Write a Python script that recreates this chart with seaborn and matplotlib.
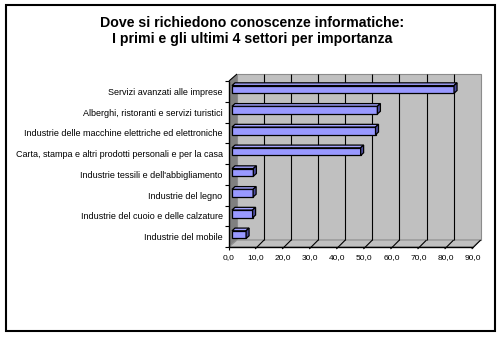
import matplotlib
matplotlib.use("Agg")
import matplotlib.pyplot as plt
import seaborn as sns
import pandas as pd
from matplotlib.patches import Polygon, Rectangle
from matplotlib.lines import Line2D
from matplotlib.transforms import ScaledTranslation, IdentityTransform
from matplotlib import font_manager

# ---- data ----
sectors = [
    "Servizi avanzati alle imprese",
    "Alberghi, ristoranti e servizi turistici",
    "Industrie delle macchine elettriche ed elettroniche",
    "Carta, stampa e altri prodotti personali e per la casa",
    "Industrie tessili e dell'abbigliamento",
    "Industrie del legno",
    "Industrie del cuoio e delle calzature",
    "Industrie del mobile",
]
shares = [82.0, 53.7, 53.0, 47.5, 7.9, 7.8, 7.6, 5.2]
x_ticks = [0, 10, 20, 30, 40, 50, 60, 70, 80, 90]
x_tick_labels = ["0,0", "10,0", "20,0", "30,0", "40,0", "50,0", "60,0", "70,0", "80,0", "90,0"]
title_lines = ["Dove si richiedono conoscenze informatiche:",
               "I primi e gli ultimi 4 settori per importanza"]

sns.set_theme(style="white")
plt.rcParams["font.family"] = ["Liberation Sans", "DejaVu Sans"]

installed = {f.name for f in font_manager.fontManager.ttflist}
if "Liberation Sans Narrow" in installed:
    small_family, ylab_size, xlab_size = ["Liberation Sans Narrow", "Liberation Sans"], 7.8, 6.6
else:
    small_family, ylab_size, xlab_size = ["Liberation Sans", "DejaVu Sans"], 6.45, 6.0

W, H = 502, 337
fig = plt.figure(figsize=(W / 100, H / 100), dpi=100)
fig.patch.set_facecolor("white")

# front plane of the 3D box (pixels, measured from the top edge)
FX0, FX1 = 229, 472.7
FY_TOP, FY_BOT = 81, 247
ax = fig.add_axes([FX0 / W, (H - FY_BOT) / H, (FX1 - FX0) / W, (FY_BOT - FY_TOP) / H])
ax.patch.set_visible(False)

DX, DY = 8, 7            # depth of the box
BX, BY = 3, 2            # bar front face offset into the box
TX, TY = 3, 2.7          # bar depth

df = pd.DataFrame({"settore": sectors, "quota": shares})
sns.barplot(data=df, x="quota", y="settore", orient="h", color="#9999ff",
            saturation=1, width=0.37, edgecolor="black", linewidth=0.9,
            ax=ax, zorder=5)
bars = list(ax.patches)

ax.set_xlim(0, 90)
ax.set_ylim(7.5, -0.5)
for s in ax.spines.values():
    s.set_visible(False)
ax.set_xlabel("")
ax.set_ylabel("")
ax.grid(False)


def px(x, y, dx=0, dy=0):
    X, Y = ax.transData.transform((x, y))
    return (X + dx, Y + dy)


ident = IdentityTransform()


def poly(points, fc, ec="none", lw=0.8, z=1):
    ax.add_patch(Polygon(points, closed=True, facecolor=fc, edgecolor=ec,
                         linewidth=lw, transform=ident, clip_on=False, zorder=z))


def seg(p, q, color="black", lw=0.8, z=2):
    ax.add_line(Line2D([p[0], q[0]], [p[1], q[1]], color=color, linewidth=lw,
                       transform=ident, clip_on=False, zorder=z,
                       solid_capstyle="butt"))


# back wall
poly([px(0, -0.5, DX, DY), px(90, -0.5, DX, DY), px(90, 7.5, DX, DY), px(0, 7.5, DX, DY)],
     "#c0c0c0", "#8c8c8c", z=1)
for v in x_ticks[1:-1]:
    seg(px(v, -0.5, DX, DY), px(v, 7.5, DX, DY), z=2)

# left side wall
poly([px(0, -0.5), px(0, -0.5, DX, DY), px(0, 7.5, DX, DY), px(0, 7.5)], "#808080", z=1.5)
seg(px(0, -0.5), px(0, -0.5, DX, DY), color="black", z=2)

# floor
poly([px(0, 7.5), px(90, 7.5), px(90, 7.5, DX, DY), px(0, 7.5, DX, DY)],
     "#c0c0c0", "#8c8c8c", z=1.5)
for v in x_ticks[1:]:
    seg(px(v, 7.5, -1, -2), px(v, 7.5, DX, DY), z=2)

# front axes lines and category boundary ticks
seg(px(0, 7.5), px(90, 7.5), lw=1, z=3)
seg(px(0, -0.5), px(0, 7.5), lw=1, z=3)
seg(px(0, 7.5), px(0, 7.5, 0, -3), lw=0.8, z=3)
for b in range(9):
    seg(px(0, b - 0.5), px(0, b - 0.5, -4, 0), lw=0.8, z=3)

# bars: shift front faces into the box and add top / side faces
bar_shift = ax.transData + ScaledTranslation(BX / 100, BY / 100, fig.dpi_scale_trans)
for p in bars:
    x0, y0, w, h = p.get_x(), p.get_y(), p.get_width(), p.get_height()
    p.set_transform(bar_shift)
    p.set_clip_on(False)
    c1 = px(x0, y0, BX, BY)
    c2 = px(x0 + w, y0 + h, BX, BY)
    L, R = min(c1[0], c2[0]), max(c1[0], c2[0])
    B, T = min(c1[1], c2[1]), max(c1[1], c2[1])
    poly([(L, T), (R, T), (R + TX, T + TY), (L + TX, T + TY)], "#a3a3ff", "black", 0.9, z=6)
    poly([(R, B), (R, T), (R + TX, T + TY), (R + TX, B + TY)], "#4d4d9e", "black", 0.9, z=6)

# tick labels
ax.set_xticks(x_ticks, x_tick_labels)
ax.tick_params(axis="x", bottom=True, length=0, pad=5, labelsize=xlab_size,
               labelcolor="black")
ax.set_yticks(range(len(sectors)), sectors)
ax.tick_params(axis="y", left=True, length=0, pad=4.6, labelsize=ylab_size,
               labelcolor="black")
for t in ax.get_xticklabels() + ax.get_yticklabels():
    t.set_fontfamily(small_family)

# title
fig.text(252 / W, (H - 26.7) / H, title_lines[0], ha="center", va="baseline",
         fontsize=10.2, fontweight="bold", color="black")
fig.text(252 / W, (H - 42.7) / H, title_lines[1], ha="center", va="baseline",
         fontsize=10.2, fontweight="bold", color="black")

# chart area frame
fig.add_artist(Rectangle((6 / W, 6 / H), 489 / W, 326 / H, transform=fig.transFigure,
                         fill=False, edgecolor="black", linewidth=1.5))

fig.savefig("out.png", dpi=100, facecolor="white")
